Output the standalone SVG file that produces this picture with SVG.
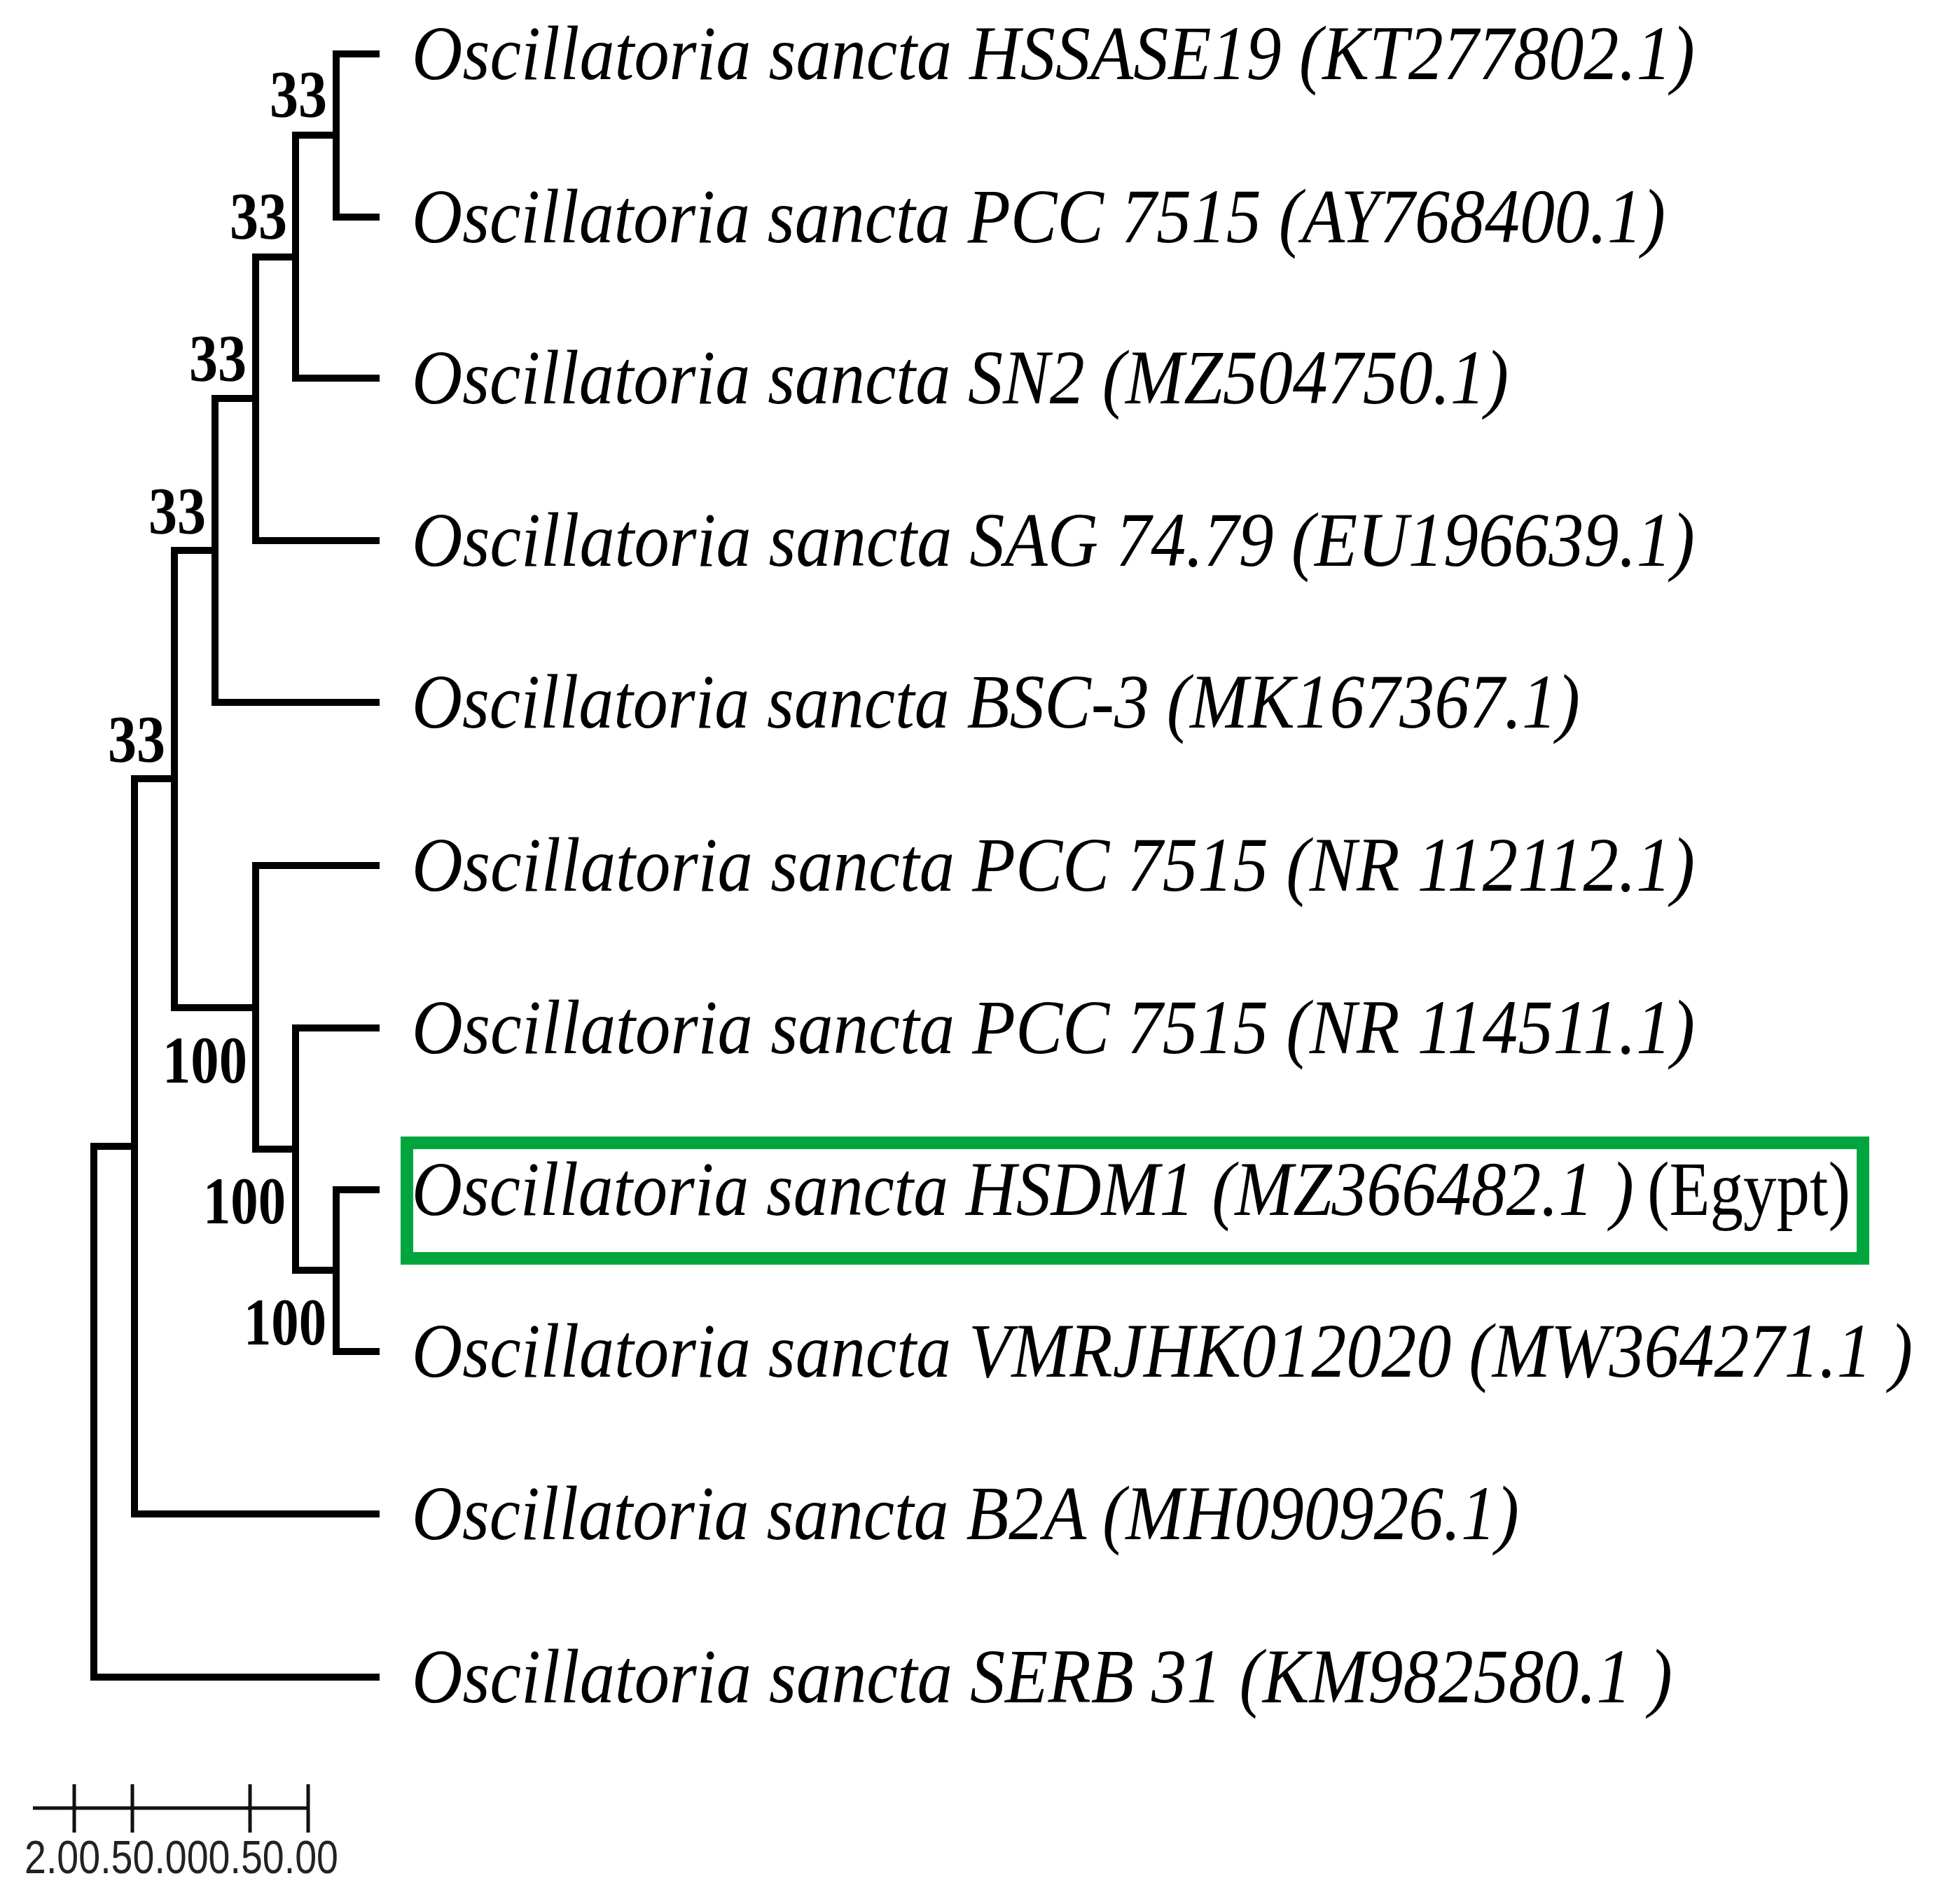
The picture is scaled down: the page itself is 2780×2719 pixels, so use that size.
<svg xmlns="http://www.w3.org/2000/svg" width="2780" height="2719" viewBox="0 0 2780 2719">
<style>
.br{fill:none;stroke:#000;stroke-width:10;stroke-linejoin:miter;stroke-linecap:butt}
.tip{font-family:"Liberation Serif","Times New Roman",serif;font-style:italic;font-size:110px;fill:#000}
.up{font-style:normal}
.bs{font-family:"Liberation Serif","Times New Roman",serif;font-weight:bold;font-size:96px;fill:#000}
.sc{font-family:"Liberation Sans",Arial,sans-serif;font-size:66px;fill:#222}
.bar{fill:none;stroke:#111;stroke-width:5}
</style>
<rect width="2780" height="2719" fill="#fff"/>
<g id="connectors">
<path class="br" d="M542,77 H480 V310 H542"/>
<path class="br" d="M480,193 H422 V540 H542"/>
<path class="br" d="M422,367 H365 V772 H542"/>
<path class="br" d="M365,569 H307 V1003 H542"/>
<path class="br" d="M542,1699 H480 V1930 H542"/>
<path class="br" d="M542,1468 H422 V1814 H480"/>
<path class="br" d="M542,1236 H365 V1641 H422"/>
<path class="br" d="M307,786 H249 V1439 H365"/>
<path class="br" d="M249,1112 H192 V2162 H542"/>
<path class="br" d="M192,1637 H134 V2395 H542"/>
</g>
<g id="support">
<text class="bs" x="385" y="167" textLength="82" lengthAdjust="spacingAndGlyphs">33</text>
<text class="bs" x="328" y="341" textLength="82" lengthAdjust="spacingAndGlyphs">33</text>
<text class="bs" x="270" y="544" textLength="82" lengthAdjust="spacingAndGlyphs">33</text>
<text class="bs" x="212" y="762" textLength="82" lengthAdjust="spacingAndGlyphs">33</text>
<text class="bs" x="154" y="1088" textLength="82" lengthAdjust="spacingAndGlyphs">33</text>
<text class="bs" x="232" y="1546" textLength="121" lengthAdjust="spacingAndGlyphs">100</text>
<text class="bs" x="290" y="1747" textLength="118" lengthAdjust="spacingAndGlyphs">100</text>
<text class="bs" x="348" y="1920" textLength="118" lengthAdjust="spacingAndGlyphs">100</text>
</g>
<g id="leaf1"><text class="tip" x="588" y="113" textLength="1832" lengthAdjust="spacingAndGlyphs">Oscillatoria sancta HSSASE19 (KT277802.1)</text></g>
<g id="leaf2"><text class="tip" x="588" y="346" textLength="1790" lengthAdjust="spacingAndGlyphs">Oscillatoria sancta PCC 7515 (AY768400.1)</text></g>
<g id="leaf3"><text class="tip" x="588" y="576" textLength="1566" lengthAdjust="spacingAndGlyphs">Oscillatoria sancta SN2 (MZ504750.1)</text></g>
<g id="leaf4"><text class="tip" x="588" y="808" textLength="1832" lengthAdjust="spacingAndGlyphs">Oscillatoria sancta SAG 74.79 (EU196639.1)</text></g>
<g id="leaf5"><text class="tip" x="588" y="1039" textLength="1668" lengthAdjust="spacingAndGlyphs">Oscillatoria sancta BSC-3 (MK167367.1)</text></g>
<g id="leaf6"><text class="tip" x="588" y="1272" textLength="1832" lengthAdjust="spacingAndGlyphs">Oscillatoria sancta PCC 7515 (NR 112112.1)</text></g>
<g id="leaf7"><text class="tip" x="588" y="1504" textLength="1832" lengthAdjust="spacingAndGlyphs">Oscillatoria sancta PCC 7515 (NR 114511.1)</text></g>
<g id="leaf8">
<rect x="581" y="1632" width="2079" height="165" fill="none" stroke="#00A63D" stroke-width="18"/>
<text class="tip" x="588" y="1735"><tspan textLength="1745" lengthAdjust="spacingAndGlyphs">Oscillatoria sancta HSDM1 (MZ366482.1 )</tspan><tspan class="up" x="2352" textLength="290" lengthAdjust="spacingAndGlyphs">(Egypt)</tspan></text>
</g>
<g id="leaf9"><text class="tip" x="588" y="1966" textLength="2143" lengthAdjust="spacingAndGlyphs">Oscillatoria sancta VMRJHK012020 (MW364271.1 )</text></g>
<g id="leaf10"><text class="tip" x="588" y="2198" textLength="1581" lengthAdjust="spacingAndGlyphs">Oscillatoria sancta B2A (MH090926.1)</text></g>
<g id="leaf11"><text class="tip" x="588" y="2431" textLength="1800" lengthAdjust="spacingAndGlyphs">Oscillatoria sancta SERB 31 (KM982580.1 )</text></g>
<g id="scalebar">
<path class="bar" d="M47,2582 H440 M106,2548 V2617 M189,2548 V2617 M357,2548 V2617 M440,2548 V2617"/>
<text class="sc" x="35" y="2675" textLength="448" lengthAdjust="spacingAndGlyphs">2.00.50.000.50.00</text>
</g>
</svg>
